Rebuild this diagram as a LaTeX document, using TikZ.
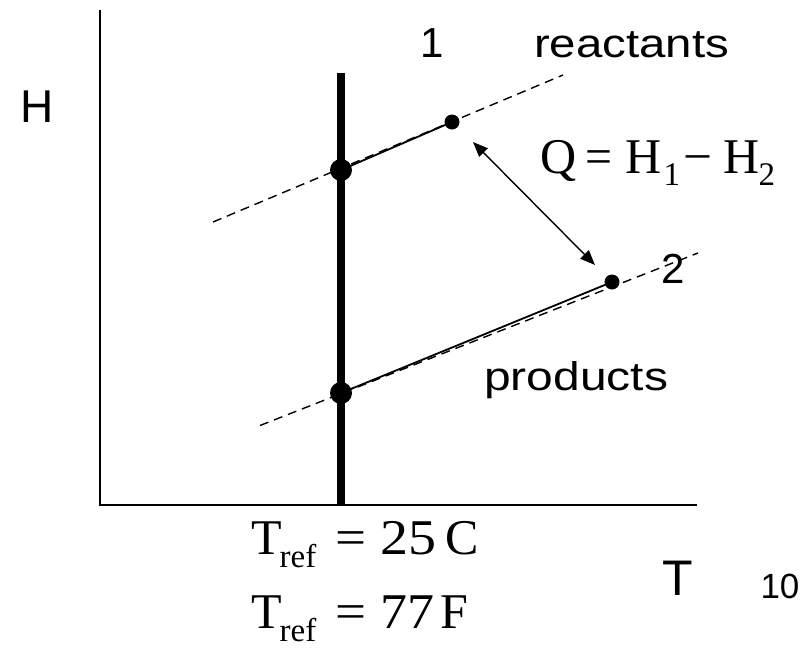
\documentclass[tikz,border=0pt]{standalone}
\usepackage{fontspec}
\setmainfont{Liberation Serif}
\newfontfamily\sansf{Liberation Sans}
\usetikzlibrary{arrows.meta}
\newcommand\rsz[2]{\resizebox{#1}{\height}{#2}}
\newcommand\fs[1]{\fontsize{#1}{#1}\selectfont}
\newcommand\putat[2]{\rlap{\hspace{#1}#2}}
\newcommand\subr[2]{\raisebox{-#1}{\fs{33}#2}}
\begin{document}
\begin{tikzpicture}[x=1pt,y=-1pt,
  axis/.style={line width=2.3pt},
  refline/.style={line width=8pt},
  dashln/.style={dash pattern=on 9pt off 6pt, line width=1.4pt},
  solidln/.style={line width=1.8pt},
  bigdot/.style={circle,fill=black,inner sep=0pt,minimum size=22pt},
  smalldot/.style={circle,fill=black,inner sep=0pt,minimum size=15pt},
  dbl/.style={line width=1.4pt,{Triangle[length=15pt,width=12pt]}-{Triangle[length=15pt,width=12pt]}},
  lbl/.style={inner sep=0pt,anchor=base},
  lblw/.style={inner sep=0pt,anchor=base west}]
\useasboundingbox (0,0) rectangle (807,649);
% axes
\coordinate (ytop) at (100,10);
\coordinate (orig) at (100,505);
\coordinate (xend) at (697,505);
\draw[axis] (ytop) -- (orig) -- (xend);
% reference temperature line
\coordinate (reftop) at (341,73);
\coordinate (refbot) at (341,506);
\draw[refline] (reftop) -- (refbot);
% dashed enthalpy lines
\coordinate (u1) at (213,222);
\coordinate (u2) at (563,75);
\coordinate (l1) at (260,425.5);
\coordinate (l2) at (698,253);
\draw[dashln] (u1) -- (u2);
\draw[dashln] (l1) -- (l2);
% points
\node[bigdot] (a1) at (341,170) {};
\node[smalldot] (p1) at (452,122) {};
\node[bigdot] (a2) at (341,393) {};
\node[smalldot] (p2) at (612,282) {};
\draw[solidln] (a1.center) -- (p1.center);
\draw[solidln] (a2.center) -- (p2.center);
% heat arrow
\coordinate (q1) at (473,142);
\coordinate (q2) at (595,265);
\draw[dbl] (q1) -- (q2);
% labels
\node[lbl] (hlab) at (37.5,122) {\sansf\fs{46}H};
\node[lbl] (tlab) at (677.5,595) {\sansf\fs{50}T};
\node[lbl] (pg) at (780,598) {\sansf\fs{35}10};
\node[lbl] (one) at (432,57) {\sansf\fs{42}1};
\node[lbl] (two) at (673,283) {\sansf\fs{42}2};
\node[lblw] (reac) at (534,57) {\sansf\fs{40}\rsz{195pt}{reactants}};
\node[lblw] (prod) at (484,390) {\sansf\fs{40}\rsz{184pt}{products}};
\node[lblw] (qlab) at (540.5,173) {\fs{50}\makebox[238pt][l]{%
  \putat{0pt}{Q}\putat{45pt}{\rsz{27pt}{=}}\putat{85pt}{H}\putat{123pt}{\subr{12pt}{1}}%
  \putat{143pt}{\rsz{29pt}{−}}\putat{183pt}{H}\putat{218pt}{\subr{12pt}{2}}}};
\node[lblw] (tref1) at (251.5,554) {\fs{50}\makebox[224pt][l]{%
  \putat{0pt}{T}\putat{28pt}{\subr{13pt}{ref}}\putat{84pt}{\rsz{31pt}{=}}%
  \putat{129pt}{\rsz{56pt}{25}}\putat{194pt}{C}}};
\node[lblw] (tref2) at (251.5,628) {\fs{50}\makebox[222pt][l]{%
  \putat{0pt}{T}\putat{28pt}{\subr{13pt}{ref}}\putat{84pt}{\rsz{31pt}{=}}%
  \putat{129pt}{\rsz{54pt}{77}}\putat{189pt}{F}}};
\end{tikzpicture}
\end{document}
